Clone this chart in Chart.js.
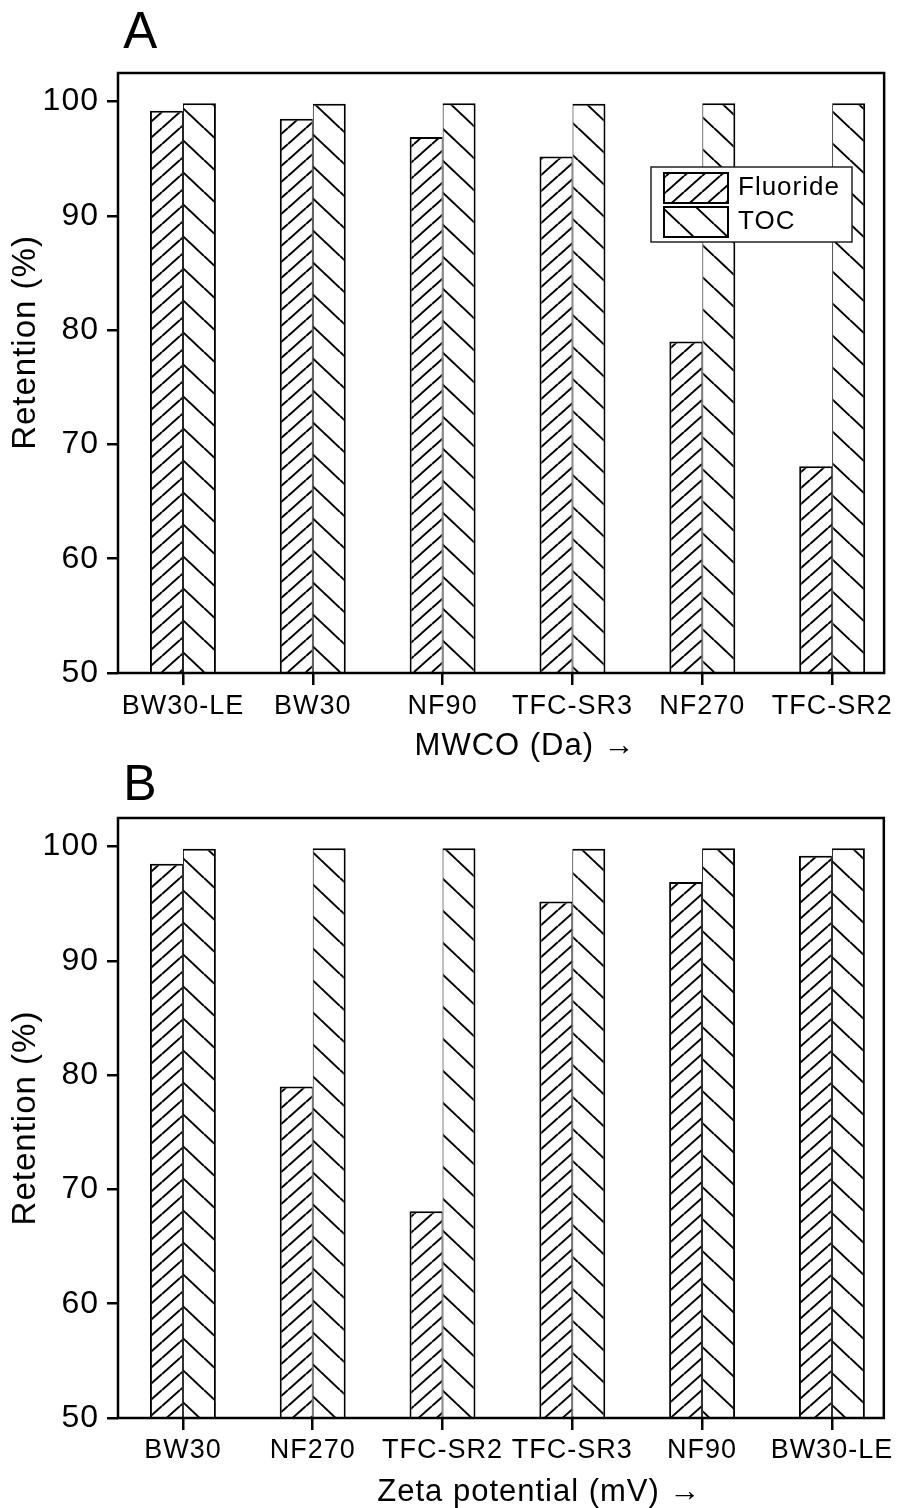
<!DOCTYPE html>
<html><head><meta charset="utf-8">
<script src="https://cdn.jsdelivr.net/npm/chart.js@4.4.1/dist/chart.umd.min.js"></script>
<style>
html,body{margin:0;padding:0;background:#fff;overflow:hidden;width:899px;height:1508px;}
#wa{position:absolute;left:0;top:0;width:899px;height:780px;}
#wb{position:absolute;left:0;top:750px;width:899px;height:770px;}
canvas{display:block;}
</style></head><body>
<div id="wa"><canvas id="ca" width="899" height="780"></canvas></div>
<div id="wb"><canvas id="cb" width="899" height="770"></canvas></div>
<script>
// ---- data ----
const seriesNames = ['Fluoride', 'TOC'];
const mwcoMembranes = ['BW30-LE', 'BW30', 'NF90', 'TFC-SR3', 'NF270', 'TFC-SR2'];
const mwcoFluoride = [99.2, 98.5, 96.9, 95.2, 79.0, 68.1];
const mwcoTOC = [99.85, 99.8, 99.85, 99.8, 99.85, 99.85];
const zetaMembranes = ['BW30', 'NF270', 'TFC-SR2', 'TFC-SR3', 'NF90', 'BW30-LE'];
const zetaFluoride = [98.5, 79.0, 68.1, 95.2, 96.9, 99.2];
const zetaTOC = [99.8, 99.85, 99.85, 99.8, 99.85, 99.85];
const yTickValues = [50, 60, 70, 80, 90, 100];
const yTitle = 'Retention (%)';
const xTitleA = 'MWCO (Da) \u2192';
const xTitleB = 'Zeta potential (mV) \u2192';

const FAMILY = '"Liberation Sans", Arial, Helvetica, sans-serif';
Chart.defaults.font.family = FAMILY;
Chart.defaults.color = '#000';
const pad = (n, s) => '\u00A0'.repeat(n) + s;

function hatch(ctx, w, h, dir) {
  const c = document.createElement('canvas');
  c.width = w; c.height = h;
  const g = c.getContext('2d');
  g.fillStyle = '#fff'; g.fillRect(0, 0, w, h);
  g.strokeStyle = '#000'; g.lineWidth = 2;
  for (let k = -1; k <= 1; k++) {
    g.beginPath();
    if (dir === '/') { g.moveTo(0, h + k * h); g.lineTo(w, k * h); }
    else { g.moveTo(0, k * h); g.lineTo(w, h + k * h); }
    g.stroke();
  }
  return ctx.createPattern(c, 'repeat');
}

const spacingPlugin = {
  id: 'spacing',
  beforeLayout(chart) { chart.ctx.letterSpacing = '1px'; },
  beforeDraw(chart) { chart.ctx.letterSpacing = '1px'; }
};

const framePlugin = {
  id: 'frame',
  afterDraw(chart) {
    const {ctx, chartArea: a} = chart;
    ctx.save();
    ctx.strokeStyle = '#000';
    ctx.lineWidth = 2.5;
    ctx.strokeRect(a.left, a.top, a.right - a.left, a.bottom - a.top);
    ctx.restore();
  }
};

const boxLegend = {
  id: 'boxLegend',
  afterDraw(chart, args, opts) {
    if (!opts.show) return;
    const ctx = chart.ctx;
    const a = chart.chartArea;
    const x = a.left + opts.dx, y = a.top + opts.dy;
    ctx.save();
    ctx.fillStyle = '#fff';
    ctx.fillRect(x, y, opts.w, opts.h);
    ctx.strokeStyle = '#222';
    ctx.lineWidth = 1.5;
    ctx.strokeRect(x, y, opts.w, opts.h);
    ctx.font = '26px ' + FAMILY;
    ctx.textBaseline = 'middle';
    ctx.textAlign = 'left';
    chart.data.datasets.forEach((ds, i) => {
      const sy = y + 6 + i * 34;
      ctx.fillStyle = ds.backgroundColor;
      ctx.fillRect(x + 13, sy, 64, 30);
      ctx.strokeStyle = '#000';
      ctx.lineWidth = 2;
      ctx.strokeRect(x + 13, sy, 64, 30);
      ctx.fillStyle = '#000';
      ctx.fillText(ds.label, x + 87, sy + 15);
    });
    ctx.restore();
  }
};

function makeChart(id, cats, fl, toc, cfg) {
  const canvas = document.getElementById(id);
  const ctx = canvas.getContext('2d');
  const pf = hatch(ctx, 18, 16, '/');
  const pt = hatch(ctx, 34, 32, '\\');
  const H = canvas.height;
  return new Chart(ctx, {
    type: 'bar',
    data: {
      datasets: [
        { label: seriesNames[0], data: fl.map((v, i) => ({x: i + 1, y: v})),
          backgroundColor: pf, borderColor: '#000',
          borderWidth: {top: 2, left: 2, right: 1, bottom: 0}, borderSkipped: false,
          categoryPercentage: 0.508, barPercentage: 1.0 },
        { label: seriesNames[1], data: toc.map((v, i) => ({x: i + 1, y: v})),
          backgroundColor: pt, borderColor: '#000',
          borderWidth: {top: 2, left: 1, right: 2, bottom: 0}, borderSkipped: false,
          categoryPercentage: 0.508, barPercentage: 1.0 }
      ]
    },
    options: {
      responsive: false, animation: false, devicePixelRatio: 1,
      layout: { autoPadding: false, padding: {left: 0, right: 14, top: 0, bottom: 0} },
      plugins: {
        legend: { display: false }, tooltip: { enabled: false },
        title: { display: true, text: '\u200A' + cfg.panel, align: 'start', fullSize: false, color: '#000',
                 font: {size: cfg.panelSize, lineHeight: 1, weight: 'normal'},
                 padding: {top: cfg.panelPadTop, bottom: cfg.panelPadBottom} },
        boxLegend: { show: cfg.legend, dx: 533, dy: 94, w: 201, h: 75 }
      },
      scales: {
        x: {
          type: 'linear', min: 0.5, max: 6.4, offset: false,
          afterBuildTicks: s => { s.ticks = cats.map((c, i) => ({value: i + 1})); },
          afterFit: s => { s.height = H - cfg.bottom; },
          ticks: { callback: v => cats[v - 1], color: '#000', font: {size: 27},
                   padding: cfg.xTickPad, maxRotation: 0, autoSkip: false },
          grid: { drawOnChartArea: false, drawTicks: true, tickLength: 12, tickColor: '#000',
                  tickWidth: 2.5, lineWidth: 2.5, offset: false },
          border: { display: false },
          title: { display: true, text: pad(cfg.xTitleShift, cfg.xTitle), color: '#000', font: {size: 31},
                   padding: {top: 0, bottom: cfg.xTitlePad} }
        },
        y: {
          min: 50, max: 102.5,
          afterBuildTicks: s => { s.ticks = yTickValues.map(v => ({value: v})); },
          afterFit: s => { s.width = 118; },
          ticks: { color: '#000', font: {size: 32}, padding: 8 },
          grid: { drawOnChartArea: false, drawTicks: true, tickLength: 11, tickColor: '#000',
                  tickWidth: 2.5, lineWidth: 2.5 },
          border: { display: false },
          title: { display: true, text: pad(cfg.yTitleShift, yTitle), color: '#000', font: {size: 33},
                   padding: {top: 5.7, bottom: 0} }
        }
      }
    },
    plugins: [spacingPlugin, framePlugin, boxLegend]
  });
}

makeChart('ca', mwcoMembranes, mwcoFluoride, mwcoTOC, {
  panel: 'A', panelSize: 51, panelPadTop: 8.5, panelPadBottom: 13.5, legend: true,
  bottom: 673, xTickPad: 5.3, xTitle: xTitleA, xTitlePad: 14.9, xTitleShift: 5, yTitleShift: 6
});
makeChart('cb', zetaMembranes, zetaFluoride, zetaTOC, {
  panel: 'B', panelSize: 50, panelPadTop: 11, panelPadBottom: 7, legend: false,
  bottom: 668, xTickPad: 4.8, xTitle: xTitleB, xTitlePad: 9.4, xTitleShift: 8, yTitleShift: 0
});
</script>
</body></html>
